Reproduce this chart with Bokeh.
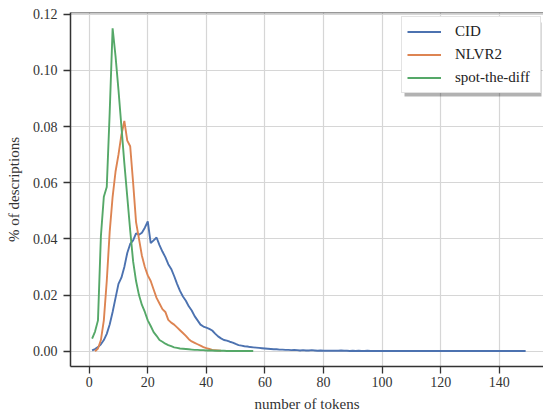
from bokeh.plotting import figure
from bokeh.models import Legend, LegendItem, FixedTicker, PrintfTickFormatter, Span, BoxAnnotation
from bokeh.embed import file_html
from bokeh.resources import INLINE

# ---- data ----
cid_x = list(range(1, 150))
cid_y = [
    0.0003, 0.0008, 0.0015, 0.0025, 0.0040, 0.0062, 0.0095, 0.0140, 0.0190, 0.0240,
    0.0262, 0.0300, 0.0350, 0.0382, 0.0395, 0.0420, 0.0415, 0.0422, 0.0440, 0.0462,
    0.0385, 0.0395, 0.0405, 0.0378, 0.0355, 0.0335, 0.0310, 0.0293, 0.0268, 0.0240,
    0.0215, 0.0195, 0.0180, 0.0160, 0.0145, 0.0125, 0.0110, 0.0095, 0.0088, 0.0084,
    0.0080, 0.0074, 0.0063, 0.0053, 0.0046, 0.0040, 0.0038, 0.0034, 0.0031, 0.0026,
    0.0022, 0.0020, 0.0018, 0.0017, 0.0015, 0.0014, 0.0013, 0.0012, 0.0011, 0.0010,
    0.0009, 0.0008, 0.0007, 0.0007, 0.0006, 0.0006, 0.0005, 0.0005, 0.0004, 0.0005,
    0.0004, 0.0003, 0.0004, 0.0003, 0.0003, 0.0004, 0.0003, 0.0002, 0.0003, 0.0002,
    0.0002, 0.0002, 0.0002, 0.0002, 0.0002, 0.0003, 0.0002, 0.0002, 0.0001, 0.0002,
    0.0001, 0.0002, 0.0001, 0.0001, 0.0002, 0.0001, 0.0001, 0.0001, 0.0001, 0.0001,
    0.0001, 0.0001, 0.0001, 0.0001, 0.0001, 0.0001, 0.0001, 0.0001, 0.0001, 0.0001,
    0.0001, 0.0001, 0.0001, 0.0001, 0.0001, 0.0001, 0.0001, 0.0001, 0.0001, 0.0001,
    0.0001, 0.0001, 0.0001, 0.0001, 0.0001, 0.0001, 0.0001, 0.0001, 0.0001, 0.0001,
    0.0001, 0.0001, 0.0001, 0.0001, 0.0001, 0.0001, 0.0001, 0.0001, 0.0001, 0.0001,
    0.0001, 0.0001, 0.0001, 0.0001, 0.0001, 0.0001, 0.0001, 0.0001, 0.0001,
]

nlvr2_x = list(range(2, 46))
nlvr2_y = [
    0.0000, 0.0010, 0.0040, 0.0110, 0.0250, 0.0425, 0.0550, 0.0640, 0.0700, 0.0770,
    0.0820, 0.0750, 0.0730, 0.0600, 0.0460, 0.0400, 0.0340, 0.0300, 0.0270, 0.0250,
    0.0220, 0.0190, 0.0170, 0.0150, 0.0140, 0.0112, 0.0102, 0.0095, 0.0085, 0.0075,
    0.0065, 0.0055, 0.0043, 0.0035, 0.0030, 0.0025, 0.0020, 0.0015, 0.0011, 0.0008,
    0.0005, 0.0004, 0.0003, 0.0002,
]

spot_x = list(range(1, 57))
spot_y = [
    0.0045, 0.0070, 0.0110, 0.0410, 0.0550, 0.0585, 0.0850, 0.1150, 0.1050, 0.0930,
    0.0800, 0.0670, 0.0550, 0.0430, 0.0320, 0.0250, 0.0200, 0.0165, 0.0140, 0.0110,
    0.0090, 0.0068, 0.0055, 0.0040, 0.0034, 0.0027, 0.0022, 0.0018, 0.0014, 0.0012,
    0.0010, 0.0009, 0.0008, 0.0007, 0.0006, 0.0005, 0.0005, 0.0004, 0.0004, 0.0003,
    0.0003, 0.0003, 0.0002, 0.0002, 0.0002, 0.0002, 0.0001, 0.0001, 0.0001, 0.0001,
    0.0001, 0.0001, 0.0001, 0.0001, 0.0001, 0.0001,
]

series_names = ["CID", "NLVR2", "spot-the-diff"]
series_colors = ["#4C72B0", "#DD8452", "#55A868"]

x_ticks = [0, 20, 40, 60, 80, 100, 120, 140]
y_ticks = [0.00, 0.02, 0.04, 0.06, 0.08, 0.10, 0.12]

FONT = "Liberation Serif"
DARK = "#333333"
Y_TOP = 0.1206

p = figure(
    width=543, height=414,
    x_range=(-6.38, 155.1), y_range=(-0.00542, Y_TOP),
    output_backend="svg", toolbar_location=None,
    min_border_left=70, min_border_right=0, min_border_top=12, min_border_bottom=46,
)
p.outline_line_color = None
p.background_fill_color = "white"
p.border_fill_color = "white"

renderers = []
for xs, ys, c in [(cid_x, cid_y, series_colors[0]),
                  (nlvr2_x, nlvr2_y, series_colors[1]),
                  (spot_x, spot_y, series_colors[2])]:
    r = p.line(xs, ys, line_color=c, line_width=1.9)
    renderers.append(r)

# top spine
p.add_layout(Span(location=Y_TOP, dimension="width", line_color=DARK, line_width=1.6))

for ax in (p.xaxis[0], p.yaxis[0]):
    ax.axis_line_color = DARK
    ax.axis_line_width = 1.5
    ax.major_tick_line_color = DARK
    ax.major_tick_line_width = 1.3
    ax.major_tick_out = 7
    ax.major_tick_in = 0
    ax.minor_tick_line_color = None
    ax.major_label_text_font = FONT
    ax.major_label_text_font_size = "14px"
    ax.major_label_text_color = DARK
    ax.axis_label_text_font = FONT
    ax.axis_label_text_font_size = "15px"
    ax.axis_label_text_font_style = "normal"
    ax.axis_label_text_color = DARK

p.xaxis.ticker = FixedTicker(ticks=x_ticks)
p.yaxis.ticker = FixedTicker(ticks=y_ticks)
p.yaxis.formatter = PrintfTickFormatter(format="%.2f")
p.xaxis.axis_label = "number of tokens"
p.yaxis.axis_label = "% of descriptions"
p.xaxis.major_label_standoff = 3
p.yaxis.major_label_standoff = 6
p.xaxis.axis_label_standoff = 6
p.yaxis.axis_label_standoff = 8

p.xgrid.ticker = FixedTicker(ticks=x_ticks)
p.ygrid.ticker = FixedTicker(ticks=y_ticks)
p.grid.grid_line_color = "#d6d6d6"
p.grid.grid_line_width = 1.2

# legend shadow (screen units measured from the frame's bottom-left corner)
p.add_layout(BoxAnnotation(left=334, right=471, top=344, bottom=270,
                           left_units="screen", right_units="screen",
                           top_units="screen", bottom_units="screen",
                           fill_color="#000000", fill_alpha=0.3, line_color=None))

legend = Legend(
    items=[LegendItem(label=n, renderers=[r]) for n, r in zip(series_names, renderers)],
    location=(331, 273),
    label_text_font=FONT, label_text_font_size="15px", label_text_color="#222222",
    glyph_width=34, glyph_height=19, label_height=19, label_width=80, spacing=4,
    label_standoff=14, padding=5, margin=0,
    border_line_color="#c8c8c8", border_line_width=1,
    background_fill_color="white", background_fill_alpha=1.0,
)
p.add_layout(legend)

open("out.html", "w").write(file_html(p, INLINE))
